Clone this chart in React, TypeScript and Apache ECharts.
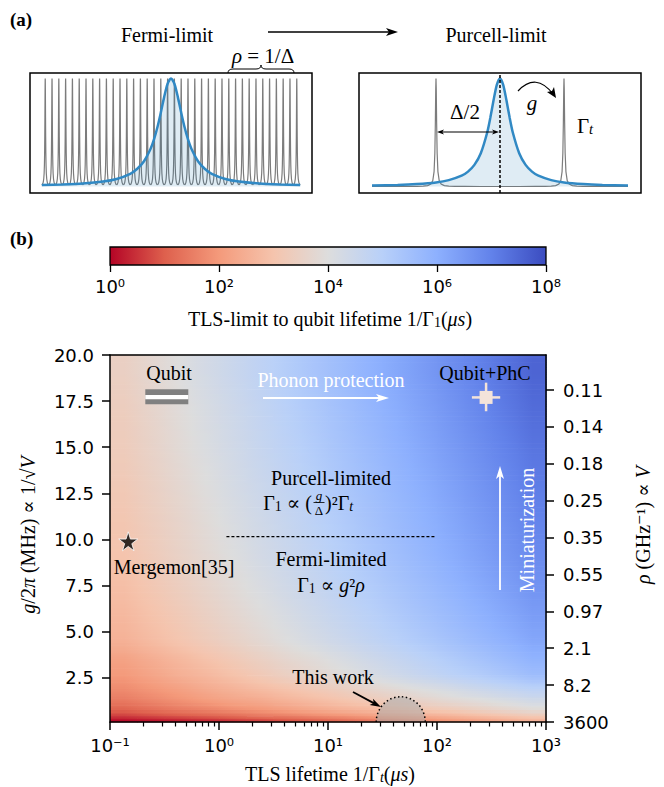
import React, { useEffect, useRef } from "react";
import * as echarts from "echarts";

const SERIF = '"Liberation Serif", "DejaVu Serif", serif';
const SANS = '"DejaVu Sans", sans-serif';

// ---------------- Panel (b): heat map of TLS-limited qubit lifetime ----------------
// cell edges along x (TLS lifetime 1/Γt, μs) and y (g/2π, MHz)
const tlsLifetimeEdges = [0.1, 0.178, 0.316, 0.562, 1, 1.78, 3.16, 5.62, 10, 17.8, 31.6, 56.2, 100, 178, 316, 562, 1000];
const couplingEdges = [0.1, 0.3, 0.6, 1.0, 1.5, 2.25, 3, 4, 5, 6.5, 8, 10, 12, 14, 16, 18, 20];
// log10 of qubit lifetime 1/Γ1 (μs), rows from bottom (small g) to top (large g)
const log10QubitLifetime = [
  [0.1, 0.2, 0.3, 0.4, 0.55, 0.7, 0.85, 1.0, 1.2, 1.4, 1.6, 1.8, 2.0, 2.2, 2.4, 2.6],
  [0.7, 0.85, 1.0, 1.15, 1.3, 1.5, 1.65, 1.85, 2.0, 2.2, 2.35, 2.55, 2.7, 2.9, 3.1, 3.3],
  [1.1, 1.3, 1.5, 1.65, 1.85, 2.0, 2.2, 2.4, 2.6, 2.75, 2.95, 3.15, 3.3, 3.5, 3.7, 3.9],
  [1.45, 1.65, 1.85, 2.05, 2.25, 2.4, 2.6, 2.8, 3.0, 3.2, 3.4, 3.6, 3.8, 3.95, 4.15, 4.35],
  [1.75, 1.95, 2.15, 2.4, 2.6, 2.8, 3.0, 3.2, 3.4, 3.65, 3.85, 4.05, 4.25, 4.5, 4.7, 4.9],
  [2.0, 2.25, 2.5, 2.7, 2.95, 3.2, 3.45, 3.7, 3.9, 4.15, 4.4, 4.65, 4.9, 5.1, 5.35, 5.6],
  [2.2, 2.45, 2.7, 2.95, 3.2, 3.45, 3.7, 3.9, 4.15, 4.4, 4.65, 4.9, 5.15, 5.4, 5.65, 5.9],
  [2.55, 2.79, 3.04, 3.28, 3.52, 3.77, 4.01, 4.25, 4.49, 4.74, 4.98, 5.22, 5.47, 5.71, 5.95, 6.2],
  [2.7, 2.95, 3.19, 3.44, 3.69, 3.93, 4.18, 4.43, 4.68, 4.92, 5.17, 5.42, 5.66, 5.91, 6.15, 6.4],
  [2.85, 3.1, 3.35, 3.6, 3.85, 4.1, 4.35, 4.6, 4.85, 5.1, 5.35, 5.6, 5.85, 6.1, 6.35, 6.6],
  [3.0, 3.25, 3.51, 3.76, 4.01, 4.27, 4.52, 4.77, 5.03, 5.28, 5.53, 5.79, 6.04, 6.29, 6.55, 6.8],
  [3.1, 3.36, 3.61, 3.87, 4.13, 4.38, 4.64, 4.9, 5.15, 5.41, 5.67, 5.92, 6.18, 6.44, 6.69, 6.95],
  [3.2, 3.46, 3.72, 3.98, 4.24, 4.5, 4.76, 5.02, 5.28, 5.54, 5.8, 6.06, 6.32, 6.58, 6.84, 7.1],
  [3.3, 3.56, 3.83, 4.09, 4.35, 4.62, 4.88, 5.14, 5.41, 5.67, 5.93, 6.2, 6.46, 6.72, 6.99, 7.25],
  [3.35, 3.62, 3.89, 4.16, 4.43, 4.7, 4.97, 5.24, 5.51, 5.78, 6.05, 6.32, 6.59, 6.86, 7.13, 7.4],
  [3.45, 3.72, 4.0, 4.27, 4.54, 4.82, 5.09, 5.36, 5.63, 5.91, 6.18, 6.45, 6.73, 7.0, 7.27, 7.55],
];

const tlsTickValues = [0.1, 1, 10, 100, 1000];
const tlsTickLabels = ["10⁻¹", "10⁰", "10¹", "10²", "10³"];
const tlsMinorTicks = [
  0.2, 0.3, 0.4, 0.5, 0.6, 0.7, 0.8, 0.9,
  2, 3, 4, 5, 6, 7, 8, 9,
  20, 30, 40, 50, 60, 70, 80, 90,
  200, 300, 400, 500, 600, 700, 800, 900,
];
const gTickValues = [2.5, 5, 7.5, 10, 12.5, 15, 17.5, 20];
const rhoTickG = [0.1, 2.1, 4.1, 6.1, 8.1, 10.1, 12.1, 14.1, 16.1, 18.1];
const rhoTickLabels = ["3600", "8.2", "2.1", "0.97", "0.55", "0.35", "0.25", "0.18", "0.14", "0.11"];

const colorbarRange = [0, 8];
const colorbarTickValues = [0, 2, 4, 6, 8];
const colorbarTickLabels = ["10⁰", "10²", "10⁴", "10⁶", "10⁸"];

// points of interest
const mergemonPoint = [0.147, 9.9];
const qubitPoint = [0.332, 17.74];
const phcPoint = [282, 17.7];
const phcTlsRange = [209, 380];
const phcGRange = [16.95, 18.5];
const thisWorkTlsRange = [27.7, 78];
const thisWorkGTop = 1.47;
const regimeBoundaryTls = [1.17, 98.6];
const regimeBoundaryG = 10.15;

// ---------------- Panel (a) ----------------
const fermiModeCenters = [
  -18.5, -17.5, -16.5, -15.5, -14.5, -13.5, -12.5, -11.5, -10.5, -9.5, -8.5, -7.5, -6.5, -5.5, -4.5, -3.5, -2.5, -1.5, -0.5,
  0.5, 1.5, 2.5, 3.5, 4.5, 5.5, 6.5, 7.5, 8.5, 9.5, 10.5, 11.5, 12.5, 13.5, 14.5, 15.5, 16.5, 17.5, 18.5,
];
const fermiTlsX = [-19, -16, -13, -10, -8, -6, -5, -4, -3, -2.5, -2, -1.5, -1, -0.5, 0, 0.5, 1, 1.5, 2, 2.5, 3, 4, 5, 6, 8, 10, 13, 16, 19];
const fermiTlsY = [0.013, 0.019, 0.028, 0.046, 0.07, 0.118, 0.162, 0.232, 0.35, 0.436, 0.548, 0.683, 0.829, 0.951, 1, 0.951, 0.829, 0.683, 0.548, 0.436, 0.35, 0.232, 0.162, 0.118, 0.07, 0.046, 0.028, 0.019, 0.013];
const purcellModeCenters = [-1, 1];
const purcellTlsX = [-2, -1.6, -1.3, -1, -0.8, -0.6, -0.5, -0.4, -0.3, -0.2, -0.15, -0.1, -0.05, 0, 0.05, 0.1, 0.15, 0.2, 0.3, 0.4, 0.5, 0.6, 0.8, 1, 1.3, 1.6, 2];
const purcellTlsY = [0.0099, 0.015, 0.023, 0.038, 0.059, 0.1, 0.138, 0.2, 0.308, 0.5, 0.64, 0.8, 0.941, 1, 0.941, 0.8, 0.64, 0.5, 0.308, 0.2, 0.138, 0.1, 0.059, 0.038, 0.023, 0.015, 0.0099];

// ---------------- helpers ----------------
const colormap = ["#b40426", "#de604d", "#f49a7b", "#f5c4ad", "#dddddd", "#b8d0f9", "#8db0fe", "#6282ea", "#3b4cc0"];
const hexRgb = (h: string) => [1, 3, 5].map((k) => parseInt(h.slice(k, k + 2), 16));
const colormapRgb = colormap.map(hexRgb);
function colorFor(v: number) {
  const t = Math.max(0, Math.min(1, (v - colorbarRange[0]) / (colorbarRange[1] - colorbarRange[0])));
  const p = t * (colormap.length - 1);
  const i = Math.min(colormap.length - 2, Math.floor(p));
  const f = p - i;
  const a = colormapRgb[i], b = colormapRgb[i + 1];
  const c = a.map((x, k) => Math.round(x + (b[k] - x) * f));
  return `rgb(${c[0]},${c[1]},${c[2]})`;
}

// smooth shading of the cells: bilinear blend between neighbouring cell centres
const colCentersLog = tlsLifetimeEdges.slice(0, -1).map((e, i) => (Math.log10(e) + Math.log10(tlsLifetimeEdges[i + 1])) / 2);
const rowCenters = couplingEdges.slice(0, -1).map((e, j) => (e + couplingEdges[j + 1]) / 2);
function locate(arr: number[], v: number): [number, number, number] {
  const n = arr.length;
  if (v <= arr[0]) return [0, 0, 0];
  if (v >= arr[n - 1]) return [n - 1, n - 1, 0];
  let k = 0;
  while (k < n - 2 && v > arr[k + 1]) k++;
  return [k, k + 1, (v - arr[k]) / (arr[k + 1] - arr[k])];
}
function shadeAt(lx: number, g: number) {
  const [i0, i1, fx] = locate(colCentersLog, lx);
  const [j0, j1, fy] = locate(rowCenters, g);
  const a = log10QubitLifetime[j0][i0] * (1 - fx) + log10QubitLifetime[j0][i1] * fx;
  const b = log10QubitLifetime[j1][i0] * (1 - fx) + log10QubitLifetime[j1][i1] * fx;
  return a * (1 - fy) + b * fy;
}

const lorentz = (d: number, w: number) => 1 / (1 + (d / w) * (d / w));
const sym = (a: number[]) => [...a.map((x) => -x).reverse(), 0, ...a];
const fermiModeShape = sym([0.008, 0.018, 0.03, 0.045, 0.065, 0.09, 0.12, 0.16, 0.22, 0.3, 0.4, 0.5]);
const purcellModeShape = sym([0.004, 0.01, 0.018, 0.03, 0.05, 0.08, 0.13, 0.2, 0.3, 0.45, 0.7, 1.0]);

function arrowEls(x1: number, y1: number, x2: number, y2: number, color: string, lw: number, hl: number, hw: number, both = false) {
  const ang = Math.atan2(y2 - y1, x2 - x1);
  const ux = Math.cos(ang), uy = Math.sin(ang);
  const head = (x: number, y: number, dx: number, dy: number) => ({
    type: "polygon",
    z: 100,
    shape: {
      points: [
        [x, y],
        [x - dx * hl - dy * hw / 2, y - dy * hl + dx * hw / 2],
        [x - dx * hl * 0.75, y - dy * hl * 0.75],
        [x - dx * hl + dy * hw / 2, y - dy * hl - dx * hw / 2],
      ],
    },
    style: { fill: color },
  });
  const els: any[] = [
    {
      type: "line",
      z: 100,
      shape: { x1: both ? x1 + ux * hl * 0.7 : x1, y1: both ? y1 + uy * hl * 0.7 : y1, x2: x2 - ux * hl * 0.7, y2: y2 - uy * hl * 0.7 },
      style: { stroke: color, lineWidth: lw },
    },
    head(x2, y2, ux, uy),
  ];
  if (both) els.push(head(x1, y1, -ux, -uy));
  return els;
}

function txt(x: number, y: number, text: string, opts: any = {}) {
  const size = opts.size || 20;
  const fill = opts.color || "#000";
  return {
    type: "text",
    z: 100,
    x,
    y,
    rotation: opts.rotation || 0,
    style: {
      text,
      fill,
      fontFamily: opts.family || SERIF,
      fontSize: size,
      fontWeight: opts.weight || "normal",
      align: opts.align || "center",
      verticalAlign: "middle",
      rich: {
        i: { fontStyle: "italic", fontFamily: SERIF, fontSize: size, fill },
        sub: { fontFamily: SERIF, fontSize: size * 0.7, fill, lineHeight: 6, verticalAlign: "bottom" },
        subi: { fontFamily: SERIF, fontStyle: "italic", fontSize: size * 0.7, fill, lineHeight: 6, verticalAlign: "bottom" },
      },
    },
  };
}

const heatCells: number[][] = [];
log10QubitLifetime.forEach((row, j) =>
  row.forEach((v, i) =>
    heatCells.push([tlsLifetimeEdges[i], tlsLifetimeEdges[i + 1], couplingEdges[j], couplingEdges[j + 1], v, i, j])
  )
);

function buildOption() {
  const axisLineStyle = { color: "#000", width: 1.5 };
  const hiddenAxis = (gridIndex: number, min: number, max: number) => ({
    gridIndex, type: "value", min, max, show: false,
  });
  const labelIndex = (vals: number[], v: number, log = false) =>
    vals.findIndex((t) => (log ? Math.abs(Math.log10(t) - Math.log10(v)) < 0.01 : Math.abs(t - v) < 1e-6));

  const graphic: any[] = [
    txt(10, 19, "(a)", { align: "left", weight: "bold", size: 19 }),
    txt(10, 238, "(b)", { align: "left", weight: "bold", size: 19 }),
    txt(167, 35, "Fermi-limit"),
    txt(496, 35, "Purcell-limit"),
    ...arrowEls(268, 32, 398, 32, "#000", 1.6, 12, 8),
    // brace
    { type: "bezierCurve", z: 100, shape: { x1: 228, y1: 73, x2: 233, y2: 69, cpx1: 228, cpy1: 69 }, style: { stroke: "#000", lineWidth: 1, fill: null } },
    { type: "line", z: 100, shape: { x1: 233, y1: 69, x2: 256, y2: 69 }, style: { stroke: "#000", lineWidth: 1 } },
    { type: "bezierCurve", z: 100, shape: { x1: 256, y1: 69, x2: 261, y2: 65, cpx1: 261, cpy1: 69 }, style: { stroke: "#000", lineWidth: 1, fill: null } },
    { type: "bezierCurve", z: 100, shape: { x1: 261, y1: 65, x2: 266, y2: 69, cpx1: 261, cpy1: 69 }, style: { stroke: "#000", lineWidth: 1, fill: null } },
    { type: "line", z: 100, shape: { x1: 266, y1: 69, x2: 289, y2: 69 }, style: { stroke: "#000", lineWidth: 1 } },
    { type: "bezierCurve", z: 100, shape: { x1: 289, y1: 69, x2: 294, y2: 73, cpx1: 294, cpy1: 69 }, style: { stroke: "#000", lineWidth: 1, fill: null } },
    txt(263, 56, "{i|ρ} = 1/Δ", { size: 21 }),
    // purcell annotations
    ...arrowEls(437, 132, 499, 132, "#000", 1.2, 7, 5, true),
    txt(465, 112, "Δ/2", { size: 21 }),
    { type: "bezierCurve", z: 100, shape: { x1: 518, y1: 91, x2: 553, y2: 94, cpx1: 536, cpy1: 72 }, style: { stroke: "#000", lineWidth: 1.2, fill: null } },
    { type: "polygon", z: 100, shape: { points: [[556, 98], [547, 92], [552, 91], [554, 87]] }, style: { fill: "#000" } },
    txt(532, 103, "{i|g}", { size: 21 }),
    txt(585, 126, "Γ{subi|t}", { size: 21 }),

    // panel (b) annotations
    txt(169, 373, "Qubit"),
    txt(331, 380, "Phonon protection", { color: "#fff" }),
    ...arrowEls(263, 398, 389, 398, "#fff", 1.8, 13, 8),
    txt(485, 373, "Qubit+PhC"),
    txt(331, 478, "Purcell-limited"),
    // Γ1 ∝ (g/Δ)²Γt with a stacked fraction
    txt(312, 503, "Γ{sub|1} ∝ (", { align: "right" }),
    txt(319, 495, "{i|g}", { size: 13 }),
    { type: "line", z: 100, shape: { x1: 313.5, y1: 502.5, x2: 324.5, y2: 502.5 }, style: { stroke: "#000", lineWidth: 0.8 } },
    txt(319, 510.5, "Δ", { size: 13 }),
    txt(325, 503, ")²Γ{subi|t}", { align: "left" }),
    txt(331, 559, "Fermi-limited"),
    txt(331, 585, "Γ{sub|1} ∝ {i|g}²{i|ρ}"),
    txt(174, 567, "Mergemon[35]"),
    txt(527, 530, "Miniaturization", { color: "#fff", rotation: Math.PI / 2 }),
    ...arrowEls(500, 590, 500, 466, "#fff", 1.8, 13, 8),
    txt(333, 677, "This work"),
    ...arrowEls(353, 692, 381, 707, "#000", 1.8, 11, 7),

    // axis titles
    txt(330, 319, "TLS-limit to qubit lifetime 1/Γ{sub|1}({i|μs})"),
    txt(330, 774, "TLS lifetime 1/Γ{subi|t}({i|μs})"),
    txt(28, 535, "{i|g}/2{i|π} (MHz) ∝ 1/√{i|V}", { rotation: Math.PI / 2 }),
    txt(643, 525, "{i|ρ} (GHz⁻¹) ∝ {i|V}", { rotation: Math.PI / 2 }),
  ];

  return {
    animation: false,
    backgroundColor: "#fff",
    grid: [
      { left: 110, top: 355, width: 436, height: 367, outerBoundsMode: "none" },
      { left: 110, top: 247, width: 436, height: 18, outerBoundsMode: "none" },
      { left: 30, top: 73, width: 282, height: 120, show: true, borderColor: "#000", borderWidth: 1.5, outerBoundsMode: "none" },
      { left: 359, top: 73, width: 282, height: 120, show: true, borderColor: "#000", borderWidth: 1.5, outerBoundsMode: "none" },
    ],
    xAxis: [
      {
        gridIndex: 0, type: "log", logBase: 10, min: 0.1, max: 1000, position: "bottom", z: 10,
        axisLine: { show: true, onZero: false, lineStyle: axisLineStyle },
        axisTick: { show: true, length: 8, customValues: tlsTickValues, lineStyle: { color: "#000", width: 1.5 } },
        axisLabel: {
          customValues: tlsTickValues, color: "#000", fontFamily: SANS, fontSize: 18, margin: 14,
          formatter: (v: number) => tlsTickLabels[labelIndex(tlsTickValues, v, true)] ?? "",
        },
        splitLine: { show: false },
      },
      {
        gridIndex: 0, type: "log", logBase: 10, min: 0.1, max: 1000, position: "bottom", z: 10,
        axisLine: { show: false },
        axisTick: { show: true, length: 4.5, customValues: tlsMinorTicks, lineStyle: { color: "#000", width: 1.2 } },
        axisLabel: { show: false },
        splitLine: { show: false },
      },
      {
        gridIndex: 0, type: "log", logBase: 10, min: 0.1, max: 1000, position: "top", z: 10,
        axisLine: { show: true, onZero: false, lineStyle: axisLineStyle },
        axisTick: { show: false }, axisLabel: { show: false }, splitLine: { show: false },
      },
      {
        gridIndex: 1, type: "value", min: colorbarRange[0], max: colorbarRange[1], interval: 2, position: "bottom",
        axisLine: { show: false },
        axisTick: { show: true, length: 7, lineStyle: { color: "#000", width: 1.3 } },
        axisLabel: {
          color: "#000", fontFamily: SANS, fontSize: 18, margin: 12,
          formatter: (v: number) => colorbarTickLabels[labelIndex(colorbarTickValues, v)] ?? "",
        },
        splitLine: { show: false },
      },
      hiddenAxis(2, -20.74, 20.74),
      hiddenAxis(3, -2.203, 2.203),
    ],
    yAxis: [
      {
        gridIndex: 0, type: "value", min: 0.1, max: 20, position: "left", z: 10,
        axisLine: { show: true, onZero: false, lineStyle: axisLineStyle },
        axisTick: { show: true, length: 8, customValues: gTickValues, lineStyle: { color: "#000", width: 1.5 } },
        axisLabel: {
          customValues: gTickValues, color: "#000", fontFamily: SANS, fontSize: 18, margin: 16,
          formatter: (v: number) => v.toFixed(1),
        },
        splitLine: { show: false },
      },
      {
        gridIndex: 0, type: "value", min: 0.1, max: 20, position: "right", z: 10,
        axisLine: { show: true, onZero: false, lineStyle: axisLineStyle },
        axisTick: { show: true, length: 8, customValues: rhoTickG, lineStyle: { color: "#000", width: 1.5 } },
        axisLabel: {
          customValues: rhoTickG, color: "#000", fontFamily: SANS, fontSize: 18, margin: 17,
          formatter: (v: number) => rhoTickLabels[labelIndex(rhoTickG, v)] ?? "",
        },
        splitLine: { show: false },
      },
      { gridIndex: 1, type: "value", min: 0, max: 1, show: false },
      hiddenAxis(2, -0.06, 1.05),
      hiddenAxis(3, -0.06, 1.05),
    ],
    series: [
      {
        type: "custom", name: "heatmap", xAxisIndex: 0, yAxisIndex: 0, z: 1, silent: true,
        data: heatCells,
        encode: { x: [0, 1], y: [2, 3] },
        renderItem: (params: any, api: any) => {
          const i = api.value(5), j = api.value(6);
          const gLo = couplingEdges[j], gHi = couplingEdges[j + 1];
          const lxL = Math.log10(tlsLifetimeEdges[i]);
          const lxR = Math.log10(tlsLifetimeEdges[i + 1]);
          const lxC = colCentersLog[i];
          const xL = api.coord([tlsLifetimeEdges[i], gLo])[0];
          const xR = api.coord([tlsLifetimeEdges[i + 1], gLo])[0];
          const yTop = api.coord([1, gHi])[1];
          const yBot = api.coord([1, gLo])[1];
          const hPx = yBot - yTop;
          const k = Math.max(1, Math.ceil(hPx / 2.5));
          const children: any[] = [];
          for (let s = 0; s < k; s++) {
            const y0 = yTop + (hPx * s) / k;
            const y1 = yTop + (hPx * (s + 1)) / k;
            const gMid = gLo + ((gHi - gLo) * (yBot - (y0 + y1) / 2)) / hPx;
            children.push({
              type: "rect",
              shape: { x: xL, y: y0 - 0.3, width: xR - xL + 0.7, height: y1 - y0 + 0.7 },
              style: {
                fill: new echarts.graphic.LinearGradient(0, 0, 1, 0, [
                  { offset: 0, color: colorFor(shadeAt(lxL, gMid)) },
                  { offset: 0.5, color: colorFor(shadeAt(lxC, gMid)) },
                  { offset: 1, color: colorFor(shadeAt(lxR, gMid)) },
                ]),
              },
            });
          }
          return { type: "group", children };
        },
      },
      {
        type: "line", xAxisIndex: 0, yAxisIndex: 0, z: 5, symbol: "none", silent: true,
        data: regimeBoundaryTls.map((t) => [t, regimeBoundaryG]),
        lineStyle: { color: "#000", width: 1.3, type: [3, 2] },
      },
      {
        type: "scatter", xAxisIndex: 0, yAxisIndex: 0, z: 6, silent: true,
        data: [mergemonPoint],
        symbol: "path://M50,0 L61,35 L98,35 L68,57 L79,91 L50,70 L21,91 L32,57 L2,35 L39,35 Z",
        symbolSize: 19,
        itemStyle: { color: "#000", borderColor: "#fff", borderWidth: 1 },
      },
      {
        type: "custom", xAxisIndex: 0, yAxisIndex: 0, z: 6, silent: true,
        data: [[qubitPoint[0], qubitPoint[1]]],
        encode: { x: 0, y: 1 },
        renderItem: (params: any, api: any) => {
          const c = api.coord([api.value(0), api.value(1)]);
          return {
            type: "group",
            children: [
              { type: "rect", shape: { x: c[0] - 21.5, y: c[1] - 7.5, width: 43, height: 15 }, style: { fill: "#808080" } },
              { type: "rect", shape: { x: c[0] - 21.5, y: c[1] - 1.8, width: 43, height: 4.3 }, style: { fill: "#fff" } },
            ],
          };
        },
      },
      {
        type: "custom", xAxisIndex: 0, yAxisIndex: 0, z: 6, silent: true,
        data: [[phcPoint[0], phcPoint[1], phcTlsRange[0], phcTlsRange[1], phcGRange[0], phcGRange[1]]],
        encode: { x: 0, y: 1 },
        renderItem: (params: any, api: any) => {
          const c = api.coord([api.value(0), api.value(1)]);
          const l = api.coord([api.value(2), api.value(1)]);
          const r = api.coord([api.value(3), api.value(1)]);
          const b = api.coord([api.value(0), api.value(4)]);
          const t = api.coord([api.value(0), api.value(5)]);
          const col = "#f3e3da";
          return {
            type: "group",
            children: [
              { type: "line", shape: { x1: l[0], y1: l[1], x2: r[0], y2: r[1] }, style: { stroke: col, lineWidth: 2.5 } },
              { type: "line", shape: { x1: b[0], y1: b[1], x2: t[0], y2: t[1] }, style: { stroke: col, lineWidth: 2.5 } },
              { type: "rect", shape: { x: c[0] - 6.5, y: c[1] - 6.5, width: 13, height: 13 }, style: { fill: col } },
            ],
          };
        },
      },
      {
        type: "custom", xAxisIndex: 0, yAxisIndex: 0, z: 6, silent: true,
        data: [[thisWorkTlsRange[0], thisWorkTlsRange[1], thisWorkGTop]],
        encode: { x: [0, 1], y: 2 },
        renderItem: (params: any, api: any) => {
          const lo = api.value(0), hi = api.value(1), top = api.value(2);
          const pL = api.coord([lo, 0.1]);
          const pR = api.coord([hi, 0.1]);
          const pT = api.coord([Math.sqrt(lo * hi), top]);
          const rx = (pR[0] - pL[0]) / 2, ry = pL[1] - pT[1];
          return {
            type: "path",
            shape: { pathData: `M${pL[0]} ${pL[1]} A${rx} ${ry} 0 0 1 ${pR[0]} ${pR[1]}` },
            style: { fill: "rgba(172,172,172,0.55)", stroke: "#000", lineWidth: 1.5, lineDash: [1.5, 2.5] },
          };
        },
      },
      {
        type: "custom", xAxisIndex: 3, yAxisIndex: 2, z: 2, silent: true,
        data: [[colorbarRange[0], colorbarRange[1], 0, 1]],
        encode: { x: [0, 1], y: [2, 3] },
        renderItem: (params: any, api: any) => {
          const a = api.coord([api.value(0), api.value(3)]);
          const b = api.coord([api.value(1), api.value(2)]);
          return {
            type: "rect",
            shape: { x: a[0], y: a[1], width: b[0] - a[0], height: b[1] - a[1] },
            style: {
              fill: new echarts.graphic.LinearGradient(0, 0, 1, 0, colormap.map((c, k) => ({ offset: k / (colormap.length - 1), color: c }))),
              stroke: "#000",
              lineWidth: 1.3,
            },
          };
        },
      },
      {
        type: "custom", xAxisIndex: 4, yAxisIndex: 3, z: 2, silent: true,
        data: fermiModeCenters.map((c) => [c, 1]),
        encode: { x: 0, y: 1 },
        renderItem: (params: any, api: any) => {
          const c = api.value(0), h = api.value(1);
          return {
            type: "polyline",
            shape: { points: fermiModeShape.map((d) => api.coord([c + d, h * lorentz(d, 0.06)])) },
            style: { stroke: "#7c7c7c", lineWidth: 1.2, fill: null },
          };
        },
      },
      {
        type: "line", xAxisIndex: 4, yAxisIndex: 3, z: 3, symbol: "none", silent: true, smooth: 0.25,
        data: fermiTlsX.map((x, k) => [x, fermiTlsY[k]]),
        lineStyle: { color: "#3189c4", width: 2.5 },
        areaStyle: { color: "rgba(31,119,180,0.2)" },
      },
      {
        type: "custom", xAxisIndex: 5, yAxisIndex: 4, z: 2, silent: true,
        data: purcellModeCenters.map((c) => [c, 1]),
        encode: { x: 0, y: 1 },
        renderItem: (params: any, api: any) => {
          const c = api.value(0), h = api.value(1);
          return {
            type: "polyline",
            shape: { points: purcellModeShape.map((d) => api.coord([c + d, h * lorentz(d, 0.012)])) },
            style: { stroke: "#7c7c7c", lineWidth: 1.2, fill: null },
          };
        },
      },
      {
        type: "line", xAxisIndex: 5, yAxisIndex: 4, z: 3, symbol: "none", silent: true, smooth: 0.25,
        data: purcellTlsX.map((x, k) => [x, purcellTlsY[k]]),
        lineStyle: { color: "#3189c4", width: 2.5 },
        areaStyle: { color: "rgba(31,119,180,0.2)" },
      },
      {
        type: "line", xAxisIndex: 5, yAxisIndex: 4, z: 4, symbol: "none", silent: true,
        data: [[0, -0.06], [0, 1.05]],
        lineStyle: { color: "#000", width: 1.5, type: [3, 2] },
      },
    ],
    graphic,
  };
}

export default function App() {
  const ref = useRef<HTMLDivElement>(null);
  useEffect(() => {
    if (!ref.current) return;
    const chart = echarts.init(ref.current, undefined, { renderer: "svg" });
    chart.setOption(buildOption() as any);
    return () => chart.dispose();
  }, []);
  return (
    <div
      ref={ref}
      style={{ position: "fixed", left: 0, top: 0, width: 664, height: 787, background: "#fff" }}
    />
  );
}
